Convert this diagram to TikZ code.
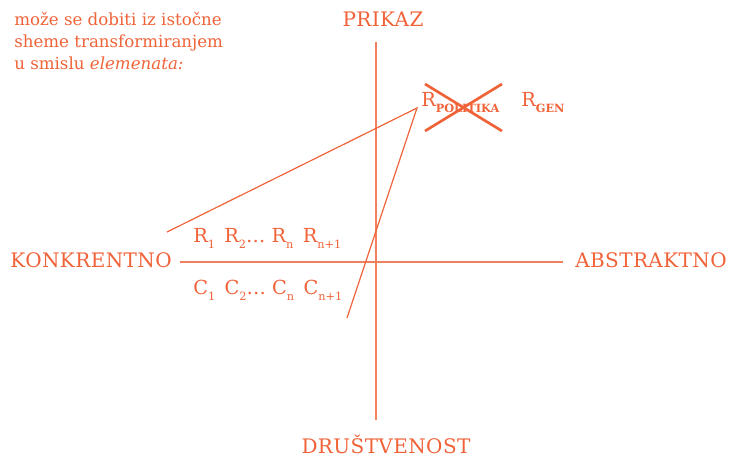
\documentclass[tikz,border=0pt]{standalone}
\usepackage{fontspec}
\setmainfont{DejaVu Serif}
\newfontfamily\spacedfont[LetterSpace=2]{DejaVu Serif}
\usetikzlibrary{positioning}
\definecolor{AccentOrange}{RGB}{240, 98, 56}
\definecolor{AxisOrange}{RGB}{242, 128, 96}
\newcommand{\lowidx}[1]{\raisebox{-0.5ex}{\fontsize{8.5}{9}\selectfont #1}}

\begin{document}
\begin{tikzpicture}[x=0.75pt, y=-0.75pt,
      axislabel/.style={text=AccentOrange, inner sep=0pt, font=\spacedfont\fontsize{15}{17}\selectfont},
      note/.style={text=AccentOrange, inner sep=0pt, align=left, font=\fontsize{12.5}{16.5}\selectfont},
      seq/.style={text=AccentOrange, inner sep=0pt, font=\fontsize{14.5}{16}\selectfont},
      axis/.style={draw=AxisOrange, line width=0.8pt},
      link/.style={draw=AccentOrange, line width=0.9pt},
      strike/.style={draw=AccentOrange, line width=2pt}
    ]
      \useasboundingbox (0,0) rectangle (729,456);

      % axes
      \coordinate (top) at (376,42);
      \coordinate (bottom) at (376,420);
      \coordinate (left) at (180,262);
      \coordinate (right) at (563,262);
      \draw[axis] (top) -- (bottom);
      \draw[axis] (left) -- (right);

      \node[axislabel, anchor=base] (prikaz) at (383,27) {PRIKAZ};
      \node[axislabel, anchor=base] (drust) at (386,453) {DRUŠTVENOST};
      \node[axislabel, anchor=base east] (konkr) at (172,268) {KONKRENTNO};
      \node[axislabel, anchor=base west] (abstr) at (575,268) {ABSTRAKTNO};

      \node[note, anchor=north west] (intro) at (14,12)
        {može se dobiti iz istočne\\sheme transformiranjem\\u smislu \textit{elemenata:}};

      % sequences
      \node[seq, anchor=base west] (rrow) at (193,243)
        {R\lowidx{1}\, R\lowidx{2}\dots\ R\lowidx{n}\, R\lowidx{n+1}};
      \node[seq, anchor=base west] (crow) at (193,295)
        {C\lowidx{1}\, C\lowidx{2}\dots\ C\lowidx{n}\, C\lowidx{n+1}};

      \node[seq, anchor=base west] (rpol) at (421,107)
        {R\lowidx{\textbf{POLITIKA}}};
      \node[seq, anchor=base west] (rgen) at (521,107)
        {R\lowidx{\textbf{GEN}}};

      % cross over R_politika
      \coordinate (xa) at (425,84);
      \coordinate (xb) at (502,131);
      \coordinate (xc) at (425,131);
      \coordinate (xd) at (502,84);
      \draw[strike] (xa) -- (xb);
      \draw[strike] (xc) -- (xd);

      % links
      \coordinate (apex) at (417,108);
      \coordinate (lend) at (167,232);
      \coordinate (bend) at (347,318);
      \draw[link] (lend) -- (apex) -- (bend);
    \end{tikzpicture}
\end{document}
